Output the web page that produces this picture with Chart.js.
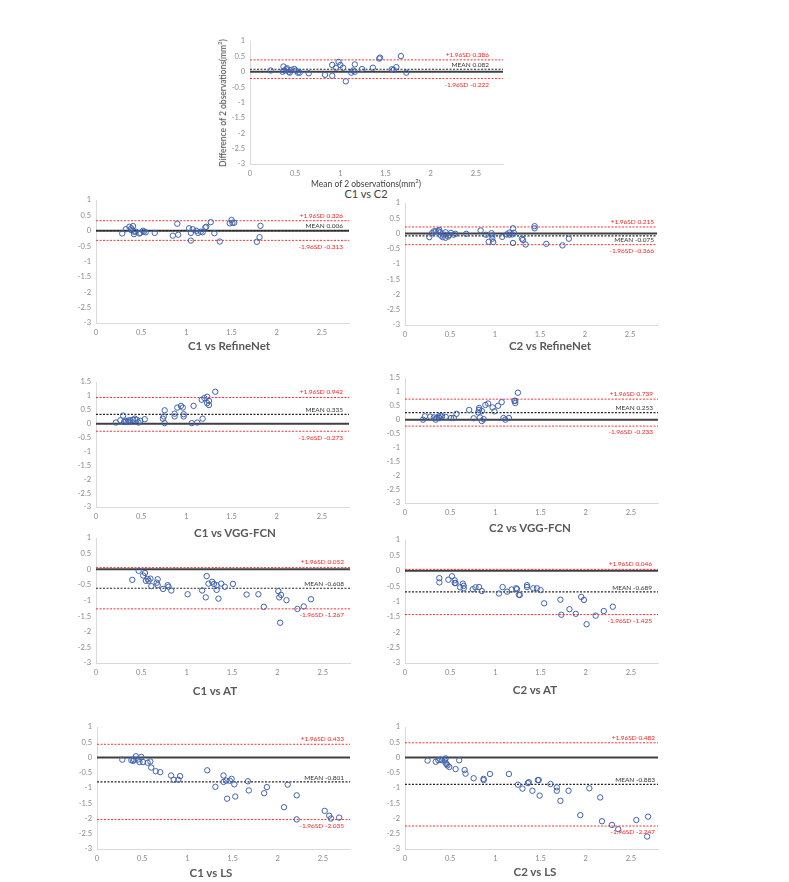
<!DOCTYPE html>
<html><head><meta charset="utf-8">
<script src="https://cdn.jsdelivr.net/npm/chart.js@4.4.0/dist/chart.umd.min.js"></script>
<style>
body{margin:0;background:#fff;width:789px;height:882px;position:relative;overflow:hidden;font-family:Lato,"Liberation Sans",sans-serif;}
canvas{position:absolute;}
.t{position:absolute;transform:translate(-50%,-50%);white-space:nowrap;color:#595959;font-weight:bold;font-size:11.5px;}
.ax{position:absolute;transform:translate(-50%,-50%);white-space:nowrap;color:#404040;font-size:8.5px;}
</style></head><body>
<script>
// ---- tick labels ----
const xTicks=[0,0.5,1,1.5,2,2.5];
const yTicksA=[-3,-2.5,-2,-1.5,-1,-0.5,0,0.5,1];
const yTicksB=[-3,-2.5,-2,-1.5,-1,-0.5,0,0.5,1,1.5];

// ---- C1 vs C2 ----
const c1c2X=[0.23,0.36,0.37,0.38,0.40,0.41,0.43,0.44,0.46,0.49,0.51,0.53,0.55,0.65,0.83,0.91,0.91,0.95,0.98,1.00,1.03,1.06,1.12,1.14,1.16,1.16,1.24,1.36,1.43,1.44,1.57,1.59,1.62,1.67,1.73];
const c1c2Y=[0.04,0,0.17,0.04,0.08,0.11,0,-0.03,0.06,0.09,0.04,-0.03,-0.03,-0.05,-0.10,-0.13,0.22,0.13,0.32,0.22,0.13,-0.31,-0.03,0.04,0.24,0,0.09,0.13,0.43,0.46,0.08,0.06,0.15,0.51,-0.03];
const c1c2Stats=[0.082,0.386,-0.222];

// ---- C1 vs RefineNet ----
const c1RefX=[0.29,0.33,0.37,0.39,0.41,0.39,0.42,0.42,0.44,0.48,0.49,0.52,0.53,0.55,0.65,0.85,0.90,0.91,1.03,1.05,1.05,1.07,1.11,1.13,1.16,1.18,1.21,1.22,1.27,1.31,1.37,1.48,1.50,1.51,1.53,1.78,1.81,1.82];
const c1RefY=[-0.09,0.05,0.13,0.08,0.15,0.02,-0.03,-0.11,-0.03,-0.09,-0.07,0,-0.03,-0.05,-0.07,-0.16,0.23,-0.13,0.08,-0.32,-0.07,0.05,0,-0.07,-0.03,-0.05,0.11,0.13,0.28,-0.08,-0.35,0.24,0.35,0.26,0.26,-0.36,-0.21,0.16];
const c1RefStats=[0.006,0.326,-0.313];

// ---- C2 vs RefineNet ----
const c2RefX=[0.27,0.30,0.32,0.34,0.37,0.38,0.39,0.40,0.42,0.44,0.45,0.45,0.48,0.49,0.51,0.54,0.56,0.68,0.84,0.90,0.93,0.96,0.97,0.98,0.97,1.08,1.13,1.16,1.16,1.19,1.20,1.21,1.20,1.30,1.31,1.34,1.44,1.44,1.57,1.75,1.82];
const c2RefY=[-0.12,0.01,0.07,0.07,0.08,0.12,0.04,-0.07,-0.12,-0.04,0.04,-0.14,-0.10,-0.05,0.02,-0.04,-0.01,-0.01,0.10,-0.04,-0.27,0.01,-0.17,-0.28,-0.07,-0.11,-0.03,0.03,-0.04,-0.03,0.17,0.02,-0.31,-0.17,-0.21,-0.36,0.24,0.17,-0.34,-0.39,-0.17];
const c2RefStats=[-0.075,0.215,-0.366];

// ---- C1 vs VGG-FCN ----
const c1VggX=[0.22,0.27,0.30,0.31,0.33,0.35,0.36,0.37,0.38,0.41,0.43,0.45,0.47,0.49,0.54,0.74,0.75,0.76,0.76,0.87,0.87,0.90,0.94,0.96,0.97,0.97,1.06,1.08,1.12,1.18,1.17,1.20,1.23,1.23,1.25,1.25,1.32];
const c1VggY=[0.04,0.12,0.29,0.06,0.10,0.06,0.12,0.06,0.12,0.14,0.18,0.14,0.04,0.10,0.16,0.18,0.26,0.48,0.02,0.36,0.26,0.58,0.64,0.58,0.34,0.26,0.02,0.64,0.04,0.18,0.86,0.92,0.97,0.74,0.82,0.67,1.15];
const c1VggStats=[0.335,0.942,-0.273];

// ---- C2 vs VGG-FCN ----
const c2VggX=[0.20,0.22,0.28,0.32,0.34,0.35,0.37,0.38,0.39,0.41,0.45,0.51,0.54,0.57,0.71,0.76,0.81,0.82,0.82,0.83,0.85,0.85,0.87,0.89,0.92,0.97,0.99,1.03,1.07,1.09,1.11,1.15,1.21,1.22,1.22,1.25];
const c2VggY=[0,0.12,0.11,0.08,0,0.06,0.11,0.06,0.14,0.12,0.10,0.06,0.06,0.21,0.35,0.05,0.26,0.35,0.42,0.08,-0.05,0.31,0.02,0.53,0.58,0.44,0.30,0.50,0.63,0.06,0,0.06,0.68,0.68,0.60,0.97];
const c2VggStats=[0.253,0.739,-0.233];

// ---- C1 vs AT ----
const c1AtX=[0.40,0.47,0.52,0.54,0.55,0.57,0.58,0.60,0.61,0.67,0.68,0.68,0.74,0.79,0.80,0.83,1.01,1.17,1.21,1.22,1.24,1.28,1.30,1.33,1.33,1.35,1.38,1.42,1.51,1.66,1.79,1.85,2.01,2.02,2.04,2.03,2.10,2.22,2.29,2.37];
const c1AtY=[-0.34,-0.05,-0.20,-0.12,-0.37,-0.31,-0.37,-0.30,-0.54,-0.43,-0.32,-0.51,-0.63,-0.51,-0.56,-0.68,-0.80,-0.68,-0.90,-0.22,-0.46,-0.40,-0.47,-0.51,-0.66,-0.94,-0.46,-0.56,-0.47,-0.81,-0.80,-1.20,-0.70,-0.90,-0.82,-1.71,-0.99,-1.27,-1.19,-0.96];
const c1AtStats=[-0.608,0.052,-1.267];

// ---- C2 vs AT ----
const c2AtX=[0.38,0.38,0.48,0.52,0.55,0.55,0.56,0.61,0.64,0.65,0.65,0.75,0.78,0.82,0.85,1.04,1.08,1.13,1.18,1.23,1.24,1.26,1.27,1.35,1.35,1.42,1.46,1.50,1.54,1.72,1.73,1.82,1.89,1.95,1.98,2.01,2.11,2.20,2.30];
const c2AtY=[-0.24,-0.38,-0.29,-0.18,-0.31,-0.40,-0.40,-0.54,-0.42,-0.49,-0.57,-0.60,-0.54,-0.53,-0.66,-0.74,-0.53,-0.68,-0.61,-0.57,-0.60,-0.78,-0.79,-0.47,-0.53,-0.57,-0.57,-0.63,-1.06,-0.94,-1.43,-1.25,-1.40,-0.85,-0.95,-1.74,-1.46,-1.31,-1.17];
const c2AtStats=[-0.689,0.046,-1.425];

// ---- C1 vs LS ----
const c1LsX=[0.28,0.38,0.40,0.41,0.43,0.45,0.47,0.49,0.51,0.56,0.59,0.60,0.65,0.70,0.82,0.85,0.90,0.92,1.22,1.31,1.40,1.40,1.43,1.44,1.47,1.49,1.52,1.53,1.67,1.68,1.85,1.88,2.07,2.11,2.21,2.21,2.52,2.57,2.59,2.68];
const c1LsY=[-0.07,-0.09,-0.11,-0.07,0.04,-0.07,-0.15,0.02,-0.15,-0.17,-0.13,-0.33,-0.45,-0.48,-0.59,-0.73,-0.73,-0.61,-0.42,-0.96,-0.59,-0.80,-0.76,-1.35,-0.76,-0.70,-0.88,-1.28,-0.78,-1.08,-1.17,-0.97,-1.63,-0.89,-1.24,-2.03,-1.75,-1.91,-2.00,-1.97];
const c1LsStats=[-0.801,0.433,-2.035];

// ---- C2 vs LS ----
const c2LsX=[0.25,0.34,0.37,0.39,0.41,0.44,0.45,0.45,0.46,0.47,0.49,0.56,0.60,0.66,0.67,0.76,0.87,0.87,0.94,1.15,1.25,1.30,1.36,1.37,1.41,1.47,1.48,1.49,1.61,1.68,1.68,1.72,1.81,1.94,2.04,2.16,2.18,2.29,2.36,2.56,2.69,2.68];
const c2LsY=[-0.10,-0.14,-0.09,-0.07,-0.09,-0.09,-0.03,-0.17,-0.22,-0.26,-0.31,-0.38,-0.09,-0.41,-0.53,-0.68,-0.70,-0.74,-0.54,-0.54,-0.89,-1.02,-0.84,-0.81,-1.09,-0.74,-0.74,-1.25,-0.87,-0.98,-1.09,-1.42,-1.09,-1.89,-1.01,-1.31,-2.09,-2.21,-2.35,-2.05,-1.94,-2.59];
const c2LsStats=[-0.883,0.482,-2.247];

const X_MAX=2.8;

const panels=[
 {x:c1c2X,y:c1c2Y,s:c1c2Stats,yT:yTicksA,box:[250,41,503,164],rOff:14,meanBelow:false,title:'C1 vs C2',tp:[366,193],small:true},
 {x:c1RefX,y:c1RefY,s:c1RefStats,yT:yTicksA,box:[96,200,349,323],rOff:6,meanBelow:false,title:'C1 vs RefineNet',tp:[229,345]},
 {x:c2RefX,y:c2RefY,s:c2RefStats,yT:yTicksA,box:[405,203,657,325],rOff:3,meanBelow:true,title:'C2 vs RefineNet',tp:[550,345]},
 {x:c1VggX,y:c1VggY,s:c1VggStats,yT:yTicksB,box:[96,382,349,507],rOff:6,meanBelow:false,title:'C1 vs VGG-FCN',tp:[235,532]},
 {x:c2VggX,y:c2VggY,s:c2VggStats,yT:yTicksB,box:[405,378,658,503],rOff:5,meanBelow:false,title:'C2 vs VGG-FCN',tp:[530,527]},
 {x:c1AtX,y:c1AtY,s:c1AtStats,yT:yTicksA,box:[96,538,350,663],rOff:6,meanBelow:false,title:'C1 vs AT',tp:[215,690]},
 {x:c2AtX,y:c2AtY,s:c2AtStats,yT:yTicksA,box:[405,540,658,663],rOff:6,meanBelow:false,title:'C2 vs AT',tp:[535,689]},
 {x:c1LsX,y:c1LsY,s:c1LsStats,yT:yTicksA,box:[97,727,350,849],rOff:6,meanBelow:false,title:'C1 vs LS',tp:[211,872]},
 {x:c2LsX,y:c2LsY,s:c2LsStats,yT:yTicksA,box:[405,727,658,849],rOff:3,meanBelow:false,title:'C2 vs LS',tp:[535,871]}
];

const baPlugin={id:'ba',afterDatasetsDraw(chart,args,o){
  const ctx=chart.ctx, ys=chart.scales.y, xr=chart.chartArea.right-o.rOff;
  ctx.save();
  ctx.font='6.5px Lato, "Liberation Sans", sans-serif';
  ctx.textAlign='right';
  ctx.fillStyle='#ff2020';
  ctx.textBaseline='bottom';
  ctx.fillText('+1.96SD '+o.s[1], xr, ys.getPixelForValue(o.s[1])-2);
  ctx.textBaseline='top';
  ctx.fillText('-1.96SD '+o.s[2], xr, ys.getPixelForValue(o.s[2])+3);
  ctx.fillStyle='#333';
  if(o.meanBelow){ctx.textBaseline='top';ctx.fillText('MEAN '+o.s[0], xr, ys.getPixelForValue(o.s[0])+1);}
  else{ctx.textBaseline='bottom';ctx.fillText('MEAN '+o.s[0], xr, ys.getPixelForValue(o.s[0])-1);}
  ctx.restore();
}};

const YW=32, PT=10, PR=8, XH=18;
const tickFont={family:'Lato, "Liberation Sans", sans-serif',size:7.5};

panels.forEach(p=>{
  const [l,t,r,b]=p.box;
  const cv=document.createElement('canvas');
  const w=r-l+YW+PR, h=b-t+PT+XH;
  cv.width=w; cv.height=h;
  cv.style.left=(l-YW)+'px'; cv.style.top=(t-PT)+'px';
  cv.style.width=w+'px'; cv.style.height=h+'px';
  document.body.appendChild(cv);
  const hline=v=>[{x:0,y:v},{x:X_MAX,y:v}];
  new Chart(cv,{
    data:{datasets:[
      {type:'scatter',data:p.x.map((v,i)=>({x:v,y:p.y[i]})),pointStyle:'circle',pointRadius:2.7,pointBorderWidth:1,
       borderColor:'#3f62ad',backgroundColor:'rgba(0,0,0,0)'},
      {type:'line',data:hline(p.s[1]),borderColor:'#ff3030',borderWidth:1,borderDash:[2,1.5],pointRadius:0},
      {type:'line',data:hline(p.s[2]),borderColor:'#ff3030',borderWidth:1,borderDash:[2,1.5],pointRadius:0},
      {type:'line',data:hline(p.s[0]),borderColor:'#262626',borderWidth:1.2,borderDash:[2,1.5],pointRadius:0},
      {type:'line',data:hline(0),borderColor:'#404040',borderWidth:2,pointRadius:0}
    ]},
    options:{
      responsive:false,animation:false,devicePixelRatio:1,
      layout:{padding:{top:PT,right:PR,left:0,bottom:0}},
      plugins:{legend:{display:false},tooltip:{enabled:false},ba:{s:p.s,rOff:p.rOff,meanBelow:p.meanBelow}},
      scales:{
        x:{type:'linear',min:0,max:X_MAX,
           afterBuildTicks:s=>{s.ticks=xTicks.map(v=>({value:v}));},
           afterFit:s=>{s.height=XH;},
           grid:{drawOnChartArea:false,drawTicks:false},
           border:{display:true,color:'#d9d9d9',width:1},
           ticks:{padding:5,font:tickFont,color:'#8a8a8a',maxRotation:0,autoSkip:false,callback:v=>String(v)}},
        y:{type:'linear',min:p.yT[0],max:p.yT[p.yT.length-1],
           afterBuildTicks:s=>{s.ticks=p.yT.map(v=>({value:v}));},
           afterFit:s=>{s.width=YW;},
           grid:{drawOnChartArea:false,drawTicks:false},
           border:{display:true,color:'#d9d9d9',width:1},
           ticks:{padding:5,font:tickFont,color:'#8a8a8a',autoSkip:false,callback:v=>String(v)}}
      }
    },
    plugins:[baPlugin]
  });
  const d=document.createElement('div');
  d.className='t'; d.textContent=p.title;
  d.style.left=p.tp[0]+'px'; d.style.top=p.tp[1]+'px';
  if(p.small){d.style.fontWeight='normal';d.style.fontSize='11px';d.style.color='#404040';}
  document.body.appendChild(d);
});

// axis titles of first panel
const xt=document.createElement('div');
xt.className='ax'; xt.innerHTML='Mean of 2 observations(mm<sup style="font-size:6px">2</sup>)';
xt.style.left='366px'; xt.style.top='183px';
document.body.appendChild(xt);
const yt=document.createElement('div');
yt.className='ax'; yt.innerHTML='Difference of 2 observations(mm<sup style="font-size:6px">2</sup>)';
yt.style.left='222px'; yt.style.top='103px';
yt.style.transform='translate(-50%,-50%) rotate(-90deg)';
document.body.appendChild(yt);
</script>
</body></html>
